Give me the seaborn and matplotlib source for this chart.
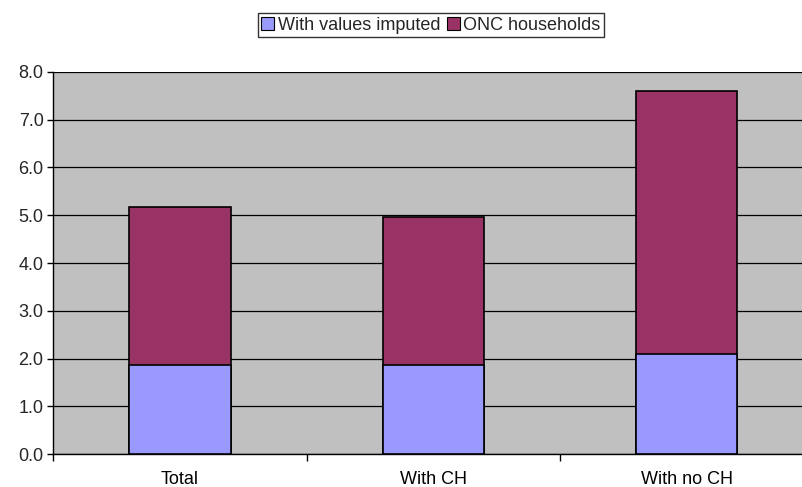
import pandas as pd
import matplotlib.pyplot as plt
import seaborn as sns
from matplotlib.patches import Patch
from matplotlib.ticker import FormatStrFormatter, FixedLocator

categories = ['Total', 'With CH', 'With no CH']
imputed = [1.87, 1.86, 2.10]
onc = [3.30, 3.11, 5.50]
series_names = ['With values imputed', 'ONC households']
colors = ['#9999FF', '#993366']

df = pd.DataFrame({'group': categories, 'imputed': imputed, 'onc': onc})
df['total'] = df['imputed'] + df['onc']

sns.set_theme(style="white")
plt.rcParams['font.family'] = ['Liberation Sans', 'DejaVu Sans']

fig = plt.figure(figsize=(8.03, 4.87), dpi=100)
ax = fig.add_axes([53.3 / 803, 1 - 454.3 / 487, 760 / 803, (454.3 - 71.7) / 487])
ax.set_facecolor('#C0C0C0')

# total bar first, imputed part drawn over its lower section
sns.barplot(data=df, x='group', y='total', color=colors[1], saturation=1,
            width=0.4, edgecolor='black', linewidth=1.2, ax=ax, zorder=3)
sns.barplot(data=df, x='group', y='imputed', color=colors[0], saturation=1,
            width=0.4, edgecolor='black', linewidth=1.2, ax=ax, zorder=4)

ax.set_xlim(-0.5, 2.5)
ax.set_ylim(0, 8)
ax.set_yticks(range(0, 9))
ax.yaxis.set_major_formatter(FormatStrFormatter('%.1f'))
ax.yaxis.grid(True, color='black', linewidth=0.9)
ax.set_axisbelow(True)
ax.set_xlabel('')
ax.set_ylabel('')

ax.xaxis.set_minor_locator(FixedLocator([-0.5, 0.5, 1.5, 2.5]))
ax.tick_params(axis='x', which='major', length=0, labelsize=13, pad=12, colors='black')
ax.tick_params(axis='x', which='minor', length=5, width=1, color='black', direction='out', bottom=True)
ax.tick_params(axis='y', length=4, width=1, color='black', direction='out', left=True, labelsize=13, pad=3)

for side in ['top', 'right']:
    ax.spines[side].set_visible(False)
for side in ['left', 'bottom']:
    ax.spines[side].set_color('black')
    ax.spines[side].set_linewidth(1)

handles = [Patch(facecolor=c, edgecolor='black', linewidth=0.8) for c in colors]
leg = fig.legend(handles, series_names, loc='center', bbox_to_anchor=(431 / 803, 1 - 25 / 487),
                 ncol=2, frameon=True, fontsize=13, handlelength=0.7, handleheight=0.7,
                 handletextpad=0.2, columnspacing=0.4, borderpad=0.2, fancybox=False)
leg.get_frame().set_edgecolor('black')
leg.get_frame().set_linewidth(1)

fig.savefig('out.png', dpi=100)
